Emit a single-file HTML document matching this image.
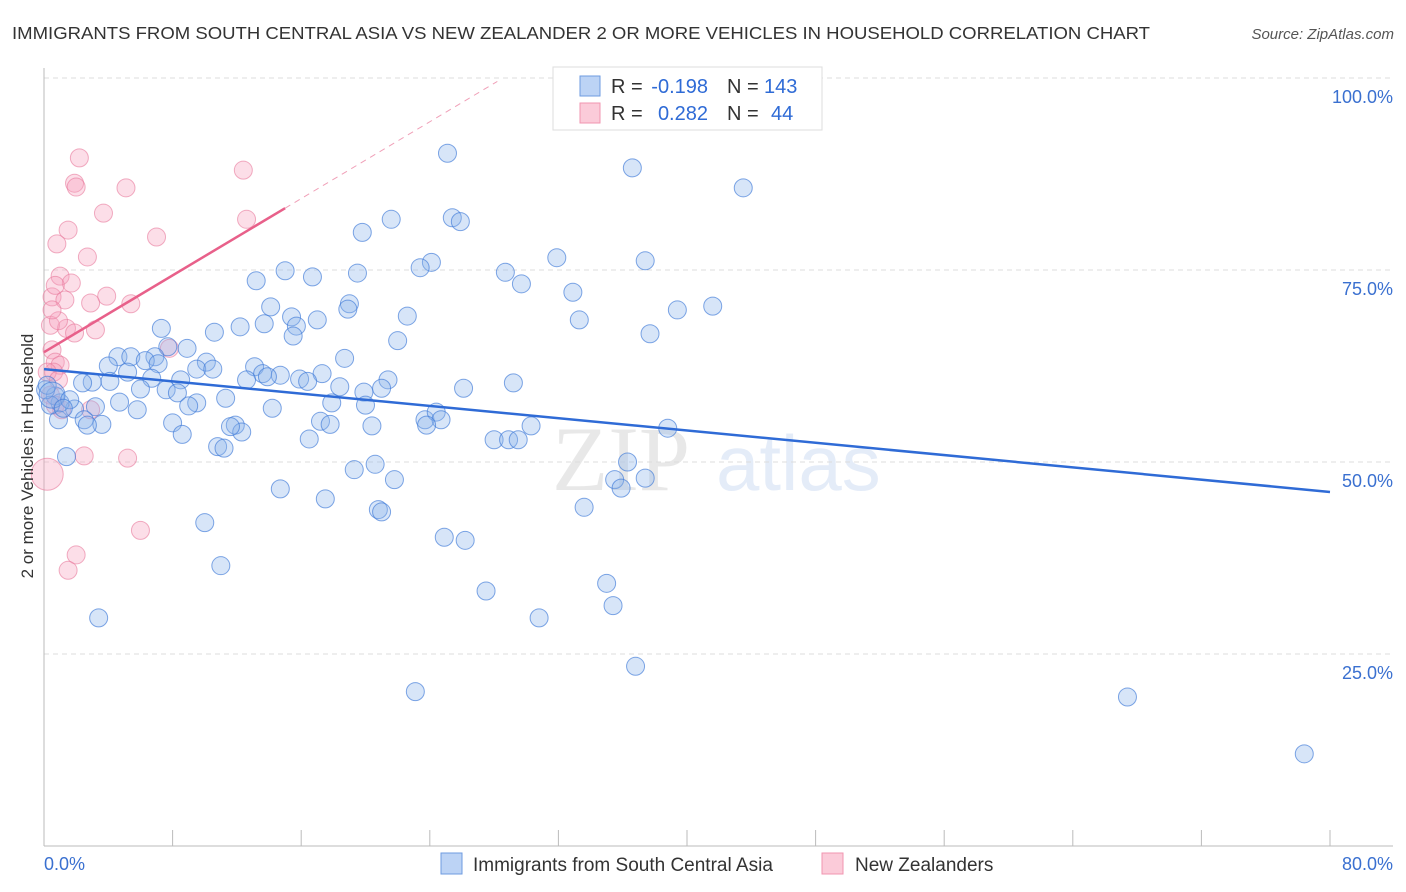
<!DOCTYPE html>
<html><head><meta charset="utf-8"><style>
body{margin:0;background:#fff;width:1406px;height:892px;overflow:hidden;font-family:"Liberation Sans",sans-serif}
svg{display:block}
</style></head><body>
<svg id="chart" width="1406" height="892" xmlns="http://www.w3.org/2000/svg">
<text x="12" y="39" font-size="17.5" fill="#333" textLength="1138" lengthAdjust="spacingAndGlyphs">IMMIGRANTS FROM SOUTH CENTRAL ASIA VS NEW ZEALANDER 2 OR MORE VEHICLES IN HOUSEHOLD CORRELATION CHART</text>
<text x="1394" y="39" font-size="15" font-style="italic" fill="#555" text-anchor="end">Source: ZipAtlas.com</text>
<g opacity="0.13">
<text x="552" y="490" font-size="92" font-family="Liberation Serif" fill="#555">ZIP</text>
<text x="716" y="490" font-size="78" fill="#3a70d0">atlas</text>
</g>
<g id="grid"></g>
<g id="axes"></g>
<g id="marks"></g>
<g id="trends"></g>
<text transform="translate(33,456) rotate(-90)" font-size="17" fill="#333" text-anchor="middle">2 or more Vehicles in Household</text>
<g font-size="20">
<rect x="553" y="67" width="269" height="63" fill="#fff" stroke="#ddd"/>
<rect x="580" y="76" width="20" height="20" fill="#bcd3f5" stroke="#6e9be0"/>
<rect x="580" y="103" width="20" height="20" fill="#fbcbd9" stroke="#f096b0"/>
<text x="611" y="93" fill="#333">R =</text>
<text x="708" y="93" fill="#2f6bd6" text-anchor="end">-0.198</text>
<text x="727" y="93" fill="#333">N =</text>
<text x="764" y="93" fill="#2f6bd6">143</text>
<text x="611" y="120" fill="#333">R =</text>
<text x="708" y="120" fill="#2f6bd6" text-anchor="end">0.282</text>
<text x="727" y="120" fill="#333">N =</text>
<text x="771" y="120" fill="#2f6bd6">44</text>
</g>
<g>
<rect x="441" y="853" width="21" height="21" fill="#bcd3f5" stroke="#6e9be0"/>
<text x="473" y="871" font-size="19" fill="#333">Immigrants from South Central Asia</text>
<rect x="822" y="853" width="21" height="21" fill="#fbcbd9" stroke="#f096b0"/>
<text x="855" y="871" font-size="19" fill="#333">New Zealanders</text>
</g>
</svg>
<script>
const blueX=[25.1,36.6,43.5,25.4,25.9,21.6,19.8,31.9,37.4,24.1,23.4,28.7,19.5,15.0,16.7,29.7,13.2,32.9,41.6,39.4,19.0,18.9,14.1,22.6,33.3,17.0,15.4,13.7,12.2,7.3,15.7,15.5,10.6,22.0,37.7,8.9,7.7,18.7,4.6,5.4,10.1,6.9,6.3,4.0,9.5,10.5,13.1,13.6,7.1,14.7,15.9,17.3,21.4,4.1,5.2,6.7,8.5,13.9,12.6,16.4,26.1,29.2,21.0,18.4,7.6,8.3,6.0,19.9,3.0,2.4,11.3,9.5,9.0,4.7,5.8,3.2,1.9,1.0,0.7,17.9,14.2,20.0,2.5,3.6,2.7,23.7,24.4,24.7,17.2,17.8,20.4,30.3,23.8,8.0,8.6,11.9,12.3,11.6,16.5,28.0,28.9,29.5,38.8,10.8,11.2,1.4,19.3,20.6,21.8,36.3,35.5,37.4,35.9,14.7,17.5,20.8,21.0,33.6,10.0,24.9,26.2,11.0,27.5,35.0,35.4,3.4,30.8,36.8,23.1,67.4,78.4,0.9,0.4,0.1,0.2,0.5,1.6,1.2];
const blueY=[90.2,88.3,85.7,81.8,81.3,81.6,79.9,76.6,76.2,76.0,75.3,74.7,74.6,74.9,74.1,73.2,73.6,72.1,70.3,69.8,70.6,69.9,70.2,69.0,68.5,68.5,68.9,68.0,67.6,67.4,67.7,66.4,66.9,65.8,66.7,64.8,65.0,63.5,63.7,63.7,63.0,63.7,63.2,62.5,62.1,62.1,62.4,61.5,62.8,61.3,60.8,61.5,60.7,60.5,61.7,60.9,60.7,61.1,60.7,60.5,59.6,60.3,59.6,59.8,59.4,59.0,59.5,59.1,60.4,60.3,58.3,57.7,57.3,57.8,56.8,57.2,56.9,57.7,58.6,57.7,57.0,57.4,55.5,54.9,54.8,55.5,56.5,55.5,55.3,54.9,54.7,54.7,54.8,55.1,53.6,54.8,53.9,54.6,53.0,52.9,52.9,52.9,54.4,52.0,51.8,50.7,49.0,49.7,47.7,50.0,47.7,47.9,46.6,46.5,45.2,43.8,43.5,44.1,42.1,40.2,39.8,36.5,33.2,34.2,31.3,29.7,29.7,23.4,20.1,19.4,12.0,55.5,57.4,59.4,60.0,58.7,58.1,57.0];
const pinkX=[2.2,1.9,2.0,5.1,12.4,3.7,12.6,1.5,0.8,7.0,2.7,1.0,1.7,0.5,1.3,3.9,2.9,5.4,1.4,3.2,0.4,0.9,1.9,0.5,0.7,1.0,0.6,0.2,7.8,2.5,5.2,6.0,2.0,1.5,0.2,0.4,0.7,1.1,2.9,0.9,0.5,0.7];
const pinkY=[89.6,86.3,85.8,85.7,88.0,82.4,81.6,80.2,78.4,79.3,76.7,74.2,73.3,71.5,71.1,71.6,70.7,70.6,67.4,67.2,67.8,68.4,66.8,64.6,63.0,62.6,61.7,61.7,64.8,50.8,50.5,41.1,37.9,35.9,48.4,58.7,57.4,56.8,56.8,60.7,69.8,73.0];
const blueTrend=[62.1,46.1]; // value at x=0 and x=80
const pinkTrend=[64.3,1.25]; // intercept, slope per %
const pinkSolidEnd=15.0, pinkDashEnd=28.2;
const yTicks=[100,75,50,25];
const yTickLabels=["100.0%","75.0%","50.0%","25.0%"];
const xTicks=[0,8,16,24,32,40,48,56,64,72,80];

const NS="http://www.w3.org/2000/svg";
const X=v=>44+v*16.075, Y=v=>846-v*7.68;
function mk(tag,attrs,parent){const e=document.createElementNS(NS,tag);for(const k in attrs)e.setAttribute(k,attrs[k]);document.getElementById(parent).appendChild(e);return e;}

yTicks.forEach((t,i)=>{
  const g=mk('line',{x1:44,x2:1393,y1:Y(t),y2:Y(t),stroke:'#ddd','stroke-dasharray':'5,4'},'grid');
  
  
  const l=mk('text',{x:1393,y:Y(t)+25,'font-size':18,fill:'#3a70d0','text-anchor':'end'},'axes');
  l.textContent=yTickLabels[i];
  
  
});
const ya=mk('line',{x1:44,x2:44,y1:68,y2:846,stroke:'#bbb'},'axes');


const xa=mk('line',{x1:44,x2:1393,y1:846,y2:846,stroke:'#bbb'},'axes');


xTicks.forEach(t=>{
  const k=mk('line',{x1:X(t),x2:X(t),y1:830,y2:846,stroke:'#bbb'},'axes');
  
  
});
const x0=mk('text',{x:44,y:870,'font-size':18,fill:'#3a70d0'},'axes');x0.textContent='0.0%';


const x1=mk('text',{x:1393,y:870,'font-size':18,fill:'#3a70d0','text-anchor':'end'},'axes');x1.textContent='80.0%';



pinkX.forEach((v,i)=>{
  const c=mk('circle',{cx:X(v),cy:Y(pinkY[i]),r:(i==34?16:9),fill:'rgba(245,160,188,0.35)',stroke:'rgba(232,120,155,0.6)','stroke-width':1},'marks');
  
  
});
blueX.forEach((v,i)=>{
  const c=mk('circle',{cx:X(v),cy:Y(blueY[i]),r:(i==135?13:9),fill:'rgba(140,180,235,0.35)',stroke:'rgba(60,120,215,0.65)','stroke-width':1},'marks');
  
  
});
const bt=mk('line',{x1:X(0),y1:Y(blueTrend[0]),x2:X(80),y2:Y(blueTrend[1]),stroke:'#2f6bd6','stroke-width':2.5},'trends');


const pt=mk('line',{x1:X(0),y1:Y(pinkTrend[0]),x2:X(pinkSolidEnd),y2:Y(pinkTrend[0]+pinkTrend[1]*pinkSolidEnd),stroke:'#e8608a','stroke-width':2.5},'trends');


const pd=mk('line',{x1:X(pinkSolidEnd),y1:Y(pinkTrend[0]+pinkTrend[1]*pinkSolidEnd),x2:X(pinkDashEnd),y2:Y(pinkTrend[0]+pinkTrend[1]*pinkDashEnd),stroke:'#f0a0b8','stroke-width':1,'stroke-dasharray':'6,5'},'trends');


</script>
</body></html>
